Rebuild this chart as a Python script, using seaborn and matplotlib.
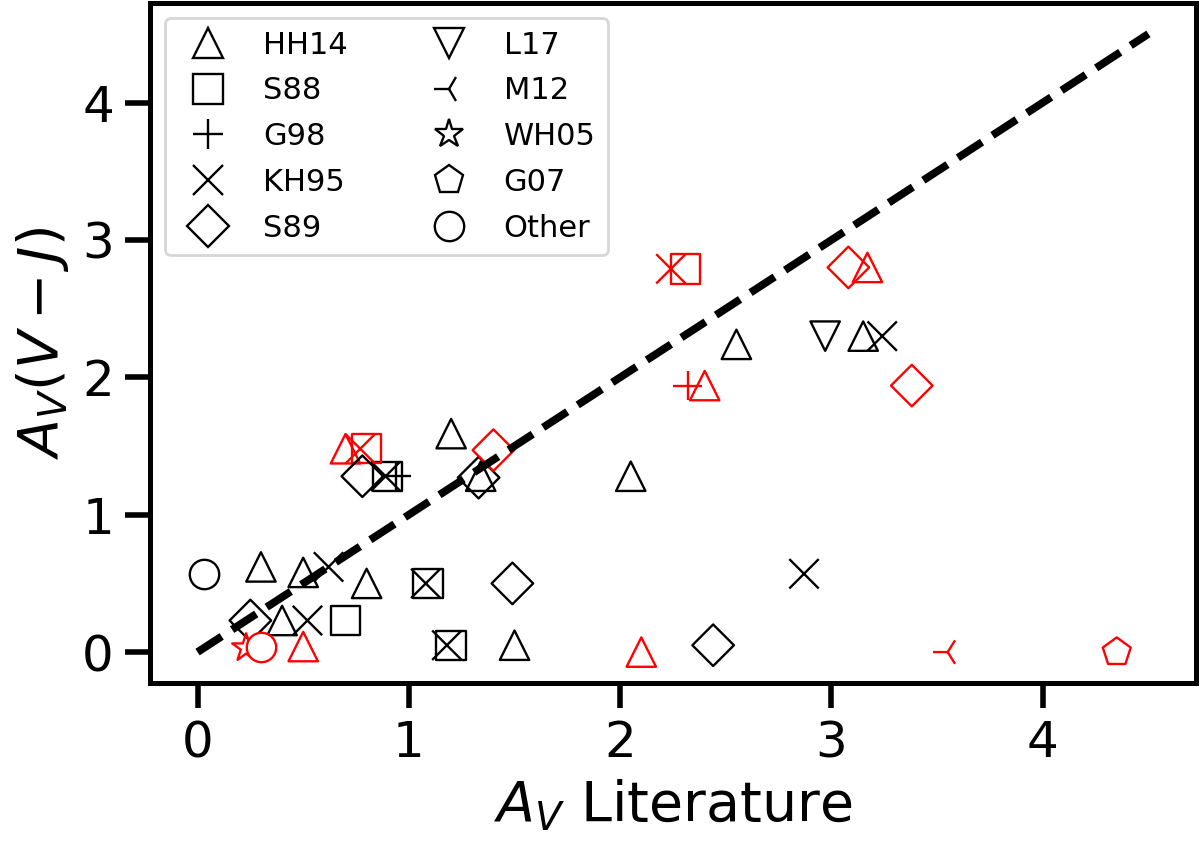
"""
Extinction from V-J colour compared with literature values.
"""

# %% import modules
import numpy as np
import pandas as pd
import matplotlib
matplotlib.use("Agg")
import matplotlib.pyplot as plt
from matplotlib.lines import Line2D
from matplotlib.markers import MarkerStyle
import seaborn as sns

# %% data
refs = ["HH14", "S88", "G98", "KH95", "S89", "L17", "M12", "WH05", "G07", "Other"]
ref_markers = ["^", "s", "+", "x", "D", "v", "3", "*", "p", "o"]

av_lit = [0.30, 0.50, 0.80, 0.40, 1.50, 1.20, 1.34, 2.55, 3.15, 2.05,   # HH14
          0.50, 0.70, 3.17, 2.40, 2.10,
          1.09, 0.70, 1.20, 0.90, 0.80, 2.31,                           # S88
          0.94, 2.32,                                                   # G98
          1.08, 0.62, 0.52, 1.18, 0.89, 3.24, 2.87, 0.77, 2.24,         # KH95
          0.78, 1.33, 0.25, 1.49, 2.44, 1.40, 3.08, 3.38,               # S89
          2.97,                                                         # L17
          3.55,                                                         # M12
          0.23,                                                         # WH05
          4.35,                                                         # G07
          0.03, 0.30]                                                   # Other
av_vj = [0.62, 0.58, 0.50, 0.23, 0.05, 1.59, 1.28, 2.24, 2.30, 1.28,
         0.04, 1.48, 2.80, 1.94, 0.00,
         0.50, 0.23, 0.05, 1.28, 1.48, 2.79,
         1.28, 1.94,
         0.50, 0.62, 0.23, 0.05, 1.28, 2.30, 0.57, 1.48, 2.79,
         1.28, 1.27, 0.23, 0.50, 0.05, 1.47, 2.80, 1.94,
         2.30,
         0.00,
         0.03,
         0.00,
         0.57, 0.04]
source = (["HH14"] * 15 + ["S88"] * 6 + ["G98"] * 2 + ["KH95"] * 9 + ["S89"] * 8
          + ["L17"] + ["M12"] + ["WH05"] + ["G07"] + ["Other"] * 2)
flagged = ([0] * 10 + [1] * 5          # HH14
           + [0] * 4 + [1] * 2         # S88
           + [0, 1]                    # G98
           + [0] * 7 + [1] * 2         # KH95
           + [0] * 5 + [1] * 3         # S89
           + [0] + [1] + [1] + [1]     # L17, M12, WH05, G07
           + [0, 1])                   # Other

one_to_one = [0, 4.5]

df = pd.DataFrame({"av_lit": av_lit, "av_vj": av_vj, "source": source, "flagged": flagged})
df["colour"] = np.where(df.flagged == 1, "red", "black")

# %% plot
size = 112
lw = .08 * np.sqrt(size)

fig = plt.figure(figsize=(6, 4.22), dpi=200)
ax = fig.add_axes([150 / 1200, 1 - 683 / 844, 1046 / 1200, 680 / 844])

for ref, m in zip(refs, ref_markers):
    for c in ["black", "red"]:
        sub = df[(df.source == ref) & (df.colour == c)]
        if sub.empty:
            continue
        if ref == "Other":
            # circles are white filled in the original
            sns.scatterplot(data=sub, x="av_lit", y="av_vj", marker="o", s=size,
                            facecolor="white", edgecolor=c, linewidth=lw, ax=ax, zorder=3)
        else:
            sns.scatterplot(data=sub, x="av_lit", y="av_vj", marker=MarkerStyle(m, fillstyle="none"),
                            s=size, color=c, linewidth=lw, ax=ax, zorder=2)

sns.lineplot(x=one_to_one, y=one_to_one, color="k", linestyle="--", linewidth=2.8, ax=ax, zorder=4)

ax.set_xlim(-0.225, 4.725)
ax.set_ylim(-0.225, 4.725)
ax.set_xticks([0, 1, 2, 3, 4])
ax.set_yticks([0, 1, 2, 3, 4])
ax.tick_params(labelsize=18, length=9, width=2, pad=4)
for sp in ax.spines.values():
    sp.set_linewidth(1.8)
ax.set_xlabel("$A_V$ Literature", fontsize=20)
ax.set_ylabel("$A_V(V-J)$", fontsize=20)

handles = [Line2D([], [], marker=m, linestyle="none", markerfacecolor="none", markeredgecolor="k",
                  markersize=np.sqrt(size), markeredgewidth=lw) for m in ref_markers]
ax.legend(handles, refs, loc="upper left", ncol=2, fontsize=11, labelspacing=0.55,
          columnspacing=2.3)

fig.savefig("out.png", dpi=200)
plt.close()
